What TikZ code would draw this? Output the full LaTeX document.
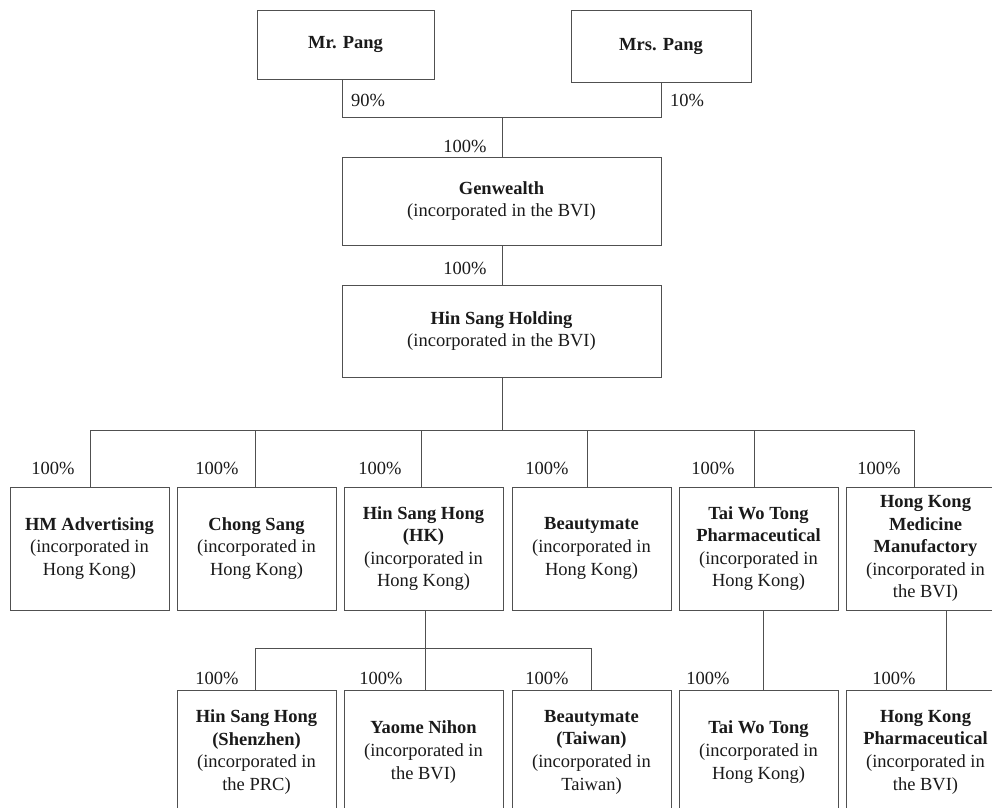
\documentclass[tikz,border=0pt]{standalone}
\usepackage{fontspec}
\setmainfont{Liberation Serif}
\definecolor{ln}{HTML}{505050}
\definecolor{tx}{HTML}{1A1A1A}
\begin{document}
\begin{tikzpicture}[x=1pt,y=-1pt,
  every node/.style={font=\fontsize{18.5}{22.6}\selectfont, text=tx},
  ent/.style={draw=ln, line width=1pt, fill=white, align=center, inner sep=0pt},
  lvtwo/.style={ent, minimum width=159pt, minimum height=123pt},
  lvthree/.style={ent, minimum width=159pt, minimum height=124pt},
  pct/.style={inner sep=0pt},
  conn/.style={draw=ln, line width=1pt}]
\clip (0,0) rectangle (992,807);
\fill[white] (0,0) rectangle (992,807);
% top owners
\node[ent, minimum width=177pt, minimum height=69pt] (mr) at (345.5,44.5) {\textbf{Mr. Pang}};
\node[ent, minimum width=180pt, minimum height=72pt] (mrs) at (661,46) {\textbf{Mrs. Pang}};
\node[ent, minimum width=319pt, minimum height=88pt] (gen) at (501.5,201) {\textbf{Genwealth}\\(incorporated in the BVI)};
\node[ent, minimum width=319pt, minimum height=92pt] (hold) at (501.5,331) {\textbf{Hin Sang Holding}\\(incorporated in the BVI)};
% level 2
\node[lvtwo] (hm) at (89.5,548.5) {\textbf{HM Advertising}\\(incorporated in\\Hong Kong)};
\node[lvtwo] (cs) at (256.5,548.5) {\textbf{Chong Sang}\\(incorporated in\\Hong Kong)};
\node[lvtwo] (hshk) at (423.5,548.5) {\textbf{Hin Sang Hong}\\\textbf{(HK)}\\(incorporated in\\Hong Kong)};
\node[lvtwo] (bm) at (591.5,548.5) {\textbf{Beautymate}\\(incorporated in\\Hong Kong)};
\node[lvtwo] (twtp) at (758.5,548.5) {\textbf{Tai Wo Tong}\\\textbf{Pharmaceutical}\\(incorporated in\\Hong Kong)};
\node[lvtwo] (hkmm) at (925.5,548.5) {\textbf{Hong Kong}\\\textbf{Medicine}\\\textbf{Manufactory}\\(incorporated in\\the BVI)};
% level 3
\node[lvthree] (hssz) at (256.5,752) {\textbf{Hin Sang Hong}\\\textbf{(Shenzhen)}\\(incorporated in\\the PRC)};
\node[lvthree] (yn) at (423.5,752) {\textbf{Yaome Nihon}\\(incorporated in\\the BVI)};
\node[lvthree] (bmtw) at (591.5,752) {\textbf{Beautymate}\\\textbf{(Taiwan)}\\(incorporated in\\Taiwan)};
\node[lvthree] (twt) at (758.5,752) {\textbf{Tai Wo Tong}\\(incorporated in\\Hong Kong)};
\node[lvthree] (hkp) at (925.5,752) {\textbf{Hong Kong}\\\textbf{Pharmaceutical}\\(incorporated in\\the BVI)};
% junctions
\coordinate (ja) at (342,117);
\coordinate (jb) at (661,117);
\coordinate (jc) at (502,117);
\coordinate (jd) at (502,430);
\coordinate (l1) at (90,430);
\coordinate (l2) at (255,430);
\coordinate (l3) at (421,430);
\coordinate (l4) at (587,430);
\coordinate (l5) at (754,430);
\coordinate (l6) at (914,430);
\coordinate (m0) at (425,648);
\coordinate (m1) at (255,648);
\coordinate (m3) at (591,648);
\coordinate (t4) at (763,650);
\coordinate (t5) at (946,650);
% connectors
\draw[conn] (mr.south -| ja) -- (ja) -- (jb) -- (mrs.south -| jb);
\draw[conn] (jc) -- (gen.north -| jc);
\draw[conn] (gen.south -| jc) -- (hold.north -| jc);
\draw[conn] (hold.south -| jd) -- (jd);
\draw[conn] (l1) -- (l6);
\draw[conn] (l1) -- (hm.north -| l1);
\draw[conn] (l2) -- (cs.north -| l2);
\draw[conn] (l3) -- (hshk.north -| l3);
\draw[conn] (l4) -- (bm.north -| l4);
\draw[conn] (l5) -- (twtp.north -| l5);
\draw[conn] (l6) -- (hkmm.north -| l6);
\draw[conn] (hshk.south -| m0) -- (yn.north -| m0);
\draw[conn] (m1) -- (m3);
\draw[conn] (m1) -- (hssz.north -| m1);
\draw[conn] (m3) -- (bmtw.north -| m3);
\draw[conn] (twtp.south -| t4) -- (twt.north -| t4);
\draw[conn] (hkmm.south -| t5) -- (hkp.north -| t5);
% percentages
\node[pct] (p90) at (368,100) {90\%};
\node[pct] (p10) at (687,100) {10\%};
\node[pct] (pg) at (465,146) {100\%};
\node[pct] (ph) at (465,268) {100\%};
\node[pct] (q1) at (53,468) {100\%};
\node[pct] (q2) at (217,468) {100\%};
\node[pct] (q3) at (380,468) {100\%};
\node[pct] (q4) at (547,468) {100\%};
\node[pct] (q5) at (713,468) {100\%};
\node[pct] (q6) at (879,468) {100\%};
\node[pct] (r1) at (217,678) {100\%};
\node[pct] (r2) at (381,678) {100\%};
\node[pct] (r3) at (547,678) {100\%};
\node[pct] (r4) at (708,678) {100\%};
\node[pct] (r5) at (894,678) {100\%};
\end{tikzpicture}
\end{document}
